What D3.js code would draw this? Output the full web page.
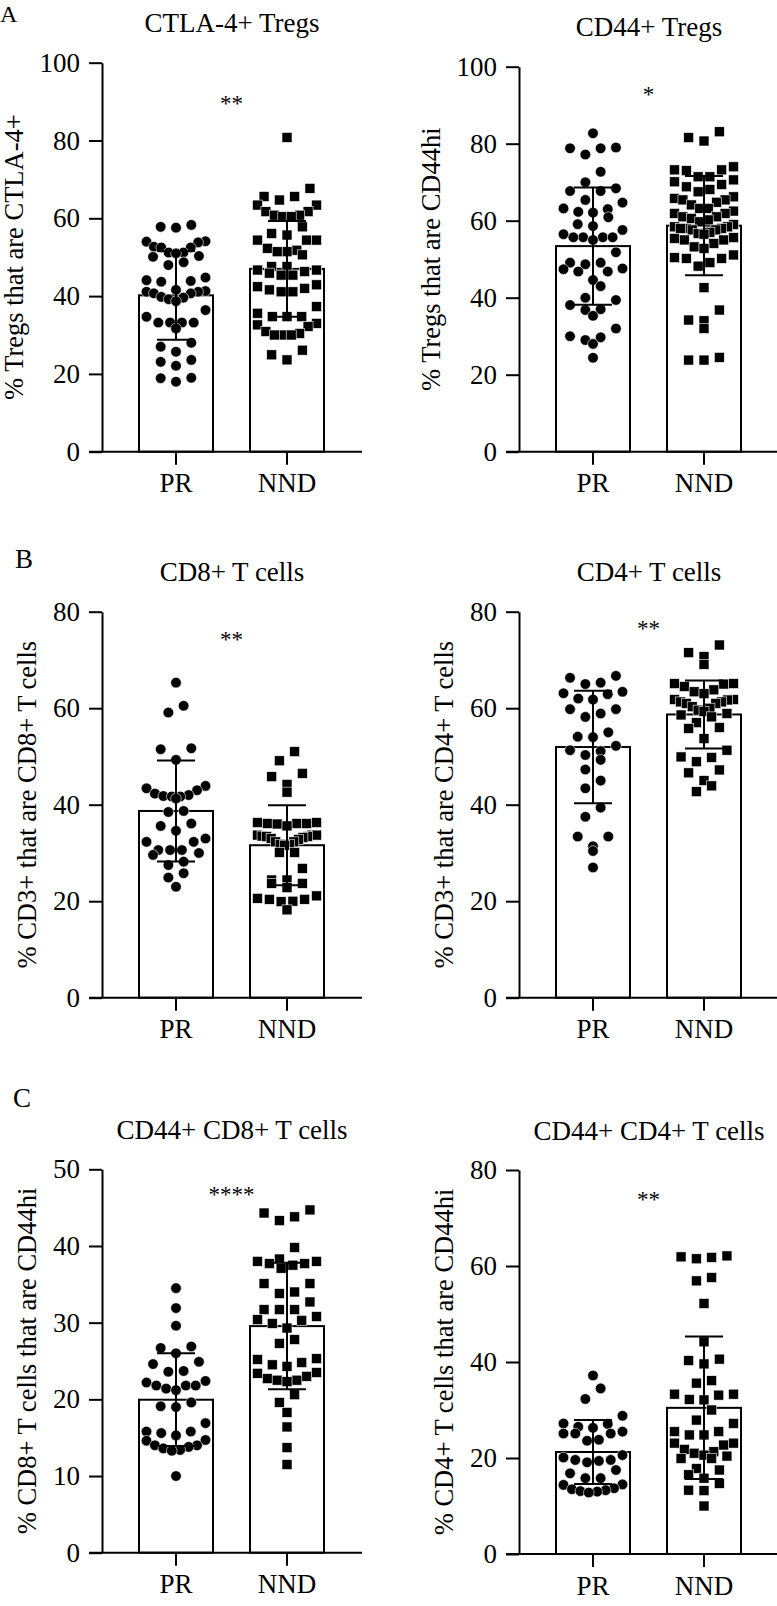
<!DOCTYPE html>
<html>
<head>
<meta charset="utf-8">
<script src="https://cdn.jsdelivr.net/npm/d3@7"></script>
<style>
  body { margin: 0; background: #fff; }
  svg text { font-family: 'Liberation Serif', 'DejaVu Serif', serif; fill: #000; }
</style>
</head>
<body>
<svg id="chart" width="777" height="1606" font-family="Liberation Serif, DejaVu Serif, serif"></svg>
<script>
// groups on the x axis
const groups = ["PR", "NND"];

// A - CTLA-4+ Tregs (% Tregs that are CTLA-4+)
const ctla4PR = [58.3, 57.8, 57.6, 54.1, 54.0, 53.8, 52.7, 52.5, 52.5, 51.2, 51.2, 51.0, 50.3, 50.1, 48.7, 48.0,
  44.8, 44.1, 43.9, 43.7, 41.6, 41.3, 41.1, 41.1, 40.7, 40.7, 39.8, 39.6, 39.2, 38.7, 36.4, 34.7, 33.2, 33.2,
  33.2, 33.2, 31.7, 28.0, 27.0, 25.7, 23.6, 23.1, 22.1, 19.0, 18.9, 18.0];
const ctla4NND = [80.8, 67.7, 65.6, 65.6, 64.7, 63.4, 63.4, 61.7, 61.7, 60.8, 60.4, 60.4, 60.8, 57.8, 56.1, 55.7,
  54.4, 54.4, 54.4, 52.3, 51.4, 51.4, 51.8, 50.6, 47.6, 46.7, 46.3, 45.4, 45.4, 45.9, 46.7, 47.6, 42.9, 42.0,
  41.1, 41.1, 41.6, 42.4, 37.3, 35.6, 34.7, 34.7, 34.7, 33.0, 32.6, 32.2, 30.9, 30.4, 30.0, 30.0, 30.0, 26.1,
  24.9, 23.6];

// A - CD44+ Tregs (% Tregs that are CD44hi)
const cd44TregPR = [82.7, 79.0, 78.8, 78.8, 77.2, 72.7, 70.0, 68.4, 67.7, 67.7, 65.4, 64.7, 63.2, 63.0, 62.3,
  62.1, 60.9, 59.1, 58.6, 57.6, 56.5, 55.7, 55.7, 55.7, 55.7, 55.0, 51.8, 49.1, 49.1, 48.7, 47.6, 47.4, 46.8,
  46.8, 44.6, 43.0, 40.0, 39.4, 38.1, 37.0, 36.8, 35.3, 32.0, 30.0, 29.7, 29.0, 28.0, 24.4];
const cd44TregNND = [83.1, 81.6, 80.7, 74.0, 73.2, 73.2, 73.0, 71.4, 71.4, 70.6, 70.1, 69.4, 68.8, 68.1, 67.5,
  66.2, 65.8, 65.4, 65.4, 64.8, 64.1, 63.2, 63.2, 62.5, 61.9, 61.9, 61.0, 61.0, 60.6, 60.2, 59.7, 59.0, 58.4,
  58.4, 58.0, 58.0, 58.0, 57.6, 57.6, 57.0, 56.7, 56.5, 55.6, 55.4, 55.0, 55.0, 54.1, 53.2, 52.8, 51.1, 50.4,
  50.2, 50.2, 49.1, 48.2, 42.6, 36.8, 34.2, 34.0, 32.0, 24.5, 23.8, 23.8];

// B - CD8+ T cells (% CD3+ that are CD8+ T cells)
const cd8PR = [65.3, 60.5, 59.1, 51.7, 51.5, 49.3, 43.9, 43.4, 43.0, 42.3, 42.0, 41.8, 41.7, 41.7, 41.3, 38.7,
  38.5, 36.1, 35.6, 34.6, 33.0, 32.3, 32.3, 30.6, 30.6, 30.6, 30.0, 29.6, 28.2, 27.5, 25.8, 24.9, 23.0];
const cd8NND = [51.0, 49.1, 46.5, 45.8, 44.2, 42.6, 36.3, 36.3, 36.1, 36.1, 36.1, 36.0, 35.6, 33.7, 33.7, 33.7,
  33.5, 33.4, 33.4, 33.2, 33.0, 32.8, 32.3, 32.3, 31.8, 31.8, 31.6, 30.1, 30.1, 26.8, 24.4, 24.4, 23.7, 23.7,
  22.8, 21.1, 20.6, 20.4, 20.4, 20.0, 19.9, 18.2];

// B - CD4+ T cells (% CD3+ that are CD4+ T cells)
const cd4PR = [66.7, 66.3, 65.3, 65.0, 63.4, 63.1, 62.9, 62.0, 61.8, 59.8, 59.8, 58.9, 58.2, 55.0, 54.1, 54.0,
  52.2, 51.3, 51.1, 50.3, 49.3, 47.3, 45.0, 43.4, 39.4, 37.5, 33.4, 33.4, 31.4, 30.4, 27.0];
const cd4NND = [73.1, 71.5, 70.7, 69.1, 65.1, 65.1, 65.0, 64.5, 63.8, 63.4, 63.0, 61.8, 61.8, 61.7, 61.3, 61.3,
  61.0, 61.0, 60.3, 60.0, 59.6, 59.3, 58.9, 58.6, 58.2, 57.0, 56.0, 55.8, 53.7, 51.3, 49.9, 49.8, 48.9, 47.2,
  46.6, 45.0, 43.9, 42.7];

// C - CD44+ CD8+ T cells (% CD8+ T cells that are CD44hi)
const cd44cd8PR = [34.5, 31.9, 29.6, 26.9, 26.7, 26.0, 24.9, 24.6, 23.7, 23.6, 22.4, 22.2, 21.8, 21.8, 21.8,
  21.4, 21.2, 19.6, 19.1, 19.0, 16.9, 15.8, 15.8, 15.6, 15.3, 14.7, 14.6, 14.0, 14.0, 13.8, 13.6, 13.4, 13.3, 10.0];
const cd44cd8NND = [44.7, 44.3, 43.8, 43.3, 39.8, 38.3, 38.0, 38.0, 37.7, 37.7, 37.5, 37.1, 35.1, 35.1, 34.0,
  33.8, 32.7, 31.7, 31.7, 31.7, 30.8, 30.4, 30.3, 29.9, 29.3, 27.8, 27.3, 25.3, 25.2, 24.8, 24.5, 24.3, 23.5,
  23.4, 23.0, 22.7, 22.5, 22.5, 22.3, 20.6, 19.6, 18.3, 16.4, 13.7, 11.5];

// C - CD44+ CD4+ T cells (% CD4+ T cells that are CD44hi)
const cd44cd4PR = [37.2, 34.5, 32.3, 28.8, 27.2, 27.1, 26.5, 26.3, 25.5, 25.1, 25.1, 25.1, 23.8, 23.6, 20.6,
  20.1, 19.6, 19.6, 19.4, 19.1, 17.5, 16.8, 15.8, 15.8, 14.5, 14.4, 13.7, 13.5, 13.3, 13.1, 13.0, 12.8];
const cd44cd4NND = [62.1, 61.9, 61.8, 61.5, 57.6, 56.9, 52.2, 44.2, 40.6, 40.3, 39.6, 36.1, 35.6, 33.3, 33.3,
  33.1, 32.2, 32.1, 30.0, 27.9, 27.2, 25.5, 25.5, 24.8, 24.8, 23.1, 23.1, 22.7, 21.8, 21.3, 21.0, 20.6, 20.4,
  19.9, 19.9, 17.8, 17.5, 16.5, 15.8, 14.7, 13.3, 13.2, 10.0];

// bar heights (mean) and error bars (SD), [PR, NND], as drawn in the figure
const ctla4Mean = [40.2, 47.0],      ctla4SD = [11.4, 12.3];
const cd44TregMean = [53.4, 58.7],   cd44TregSD = [15.2, 12.9];
const cd8Mean = [38.7, 31.6],        cd8SD = [10.45, 8.3];
const cd4Mean = [51.95, 58.7],       cd4SD = [11.65, 7.05];
const cd44cd8Mean = [19.95, 29.55],  cd44cd8SD = [6.05, 8.25];
const cd44cd4Mean = [21.25, 30.45],  cd44cd4SD = [6.65, 14.85];

// significance marks and the value they sit at
const starLabels = ["**", "*", "**", "**", "****", "**"];
const starValues = [90.4, 93.7, 75, 77.3, 47.2, 74.6];

// axis maxima and tick steps
const yMaxes = [100, 100, 80, 80, 50, 80];
const tickSteps = [20, 20, 20, 20, 10, 20];

const titles = ["CTLA-4+ Tregs", "CD44+ Tregs", "CD8+ T cells", "CD4+ T cells",
  "CD44+ CD8+ T cells", "CD44+ CD4+ T cells"];
const yLabels = ["% Tregs that are CTLA-4+", "% Tregs that are CD44hi",
  "% CD3+ that are CD8+ T cells", "% CD3+ that are CD4+ T cells",
  "% CD8+ T cells that are CD44hi", "% CD4+ T cells that are CD44hi"];

const panelData = [
  [ctla4PR, ctla4NND, ctla4Mean, ctla4SD],
  [cd44TregPR, cd44TregNND, cd44TregMean, cd44TregSD],
  [cd8PR, cd8NND, cd8Mean, cd8SD],
  [cd4PR, cd4NND, cd4Mean, cd4SD],
  [cd44cd8PR, cd44cd8NND, cd44cd8Mean, cd44cd8SD],
  [cd44cd4PR, cd44cd4NND, cd44cd4Mean, cd44cd4SD]
];

// where each panel's plot area sits on the page
const frames = [
  {left: 102, top: 62.7, bottom: 451.7},
  {left: 519, top: 66.7, bottom: 451.7},
  {left: 102, top: 611.7, bottom: 997.7},
  {left: 519, top: 611.7, bottom: 997.7},
  {left: 102, top: 1169.3, bottom: 1552.7},
  {left: 519, top: 1170, bottom: 1554}
];
const letters = [{t: "A", x: 0, y: 22, size: 24}, {t: "B", x: 15, y: 568, size: 27}, {t: "C", x: 13, y: 1107, size: 27}];

const FONT = "Liberation Serif, DejaVu Serif, serif";
const svg = d3.select("#chart");
const plotW = 259, tick = 13, lw = 2;
const dotR = 5.3, sq = 10;

svg.selectAll("text.letter").data(letters).enter().append("text")
  .attr("class", "letter")
  .attr("x", d => d.x).attr("y", d => d.y)
  .attr("font-family", FONT).attr("font-size", d => d.size)
  .text(d => d.t);

// Prism-like scatter: points close in y share a row and are spread sideways,
// lowest value in the middle, so each row curves into a small smile
function spread(values, y) {
  const rowH = 12.5, step = 15.3, maxW = 59;
  const pts = values.map(v => ({v: v, py: y(v)})).sort((a, b) => a.py - b.py);
  const rows = [];
  let cur = null;
  pts.forEach(p => {
    if (!cur || p.py - cur[0].py > rowH) { cur = []; rows.push(cur); }
    cur.push(p);
  });
  rows.forEach(row => {
    const n = row.length;
    const s = n > 1 ? Math.min(step, maxW / (n - 1)) : 0;
    const slots = d3.range(n).map(i => (i - (n - 1) / 2) * s)
      .sort((a, b) => Math.abs(a) - Math.abs(b) || a - b);
    row.sort((a, b) => b.py - a.py).forEach((p, i) => { p.dx = slots[i]; });
  });
  return pts;
}

frames.forEach((f, i) => {
  const [prVals, nndVals, means, sds] = panelData[i];
  const g = svg.append("g").attr("font-family", FONT);

  const y = d3.scaleLinear().domain([0, yMaxes[i]]).range([f.bottom, f.top]);
  const x = d3.scaleBand().domain(groups).range([f.left, f.left + plotW])
    .paddingInner(1 / 3).paddingOuter(1 / 3);
  const bw = x.bandwidth();
  const cx = d => x(d) + bw / 2;

  // title
  g.append("text")
    .attr("x", f.left + 130).attr("y", f.top - 30.5)
    .attr("text-anchor", "middle").attr("font-size", 27)
    .text(titles[i]);

  // bars
  g.selectAll("rect.bar").data(groups).enter().append("rect")
    .attr("class", "bar")
    .attr("x", d => x(d)).attr("width", bw)
    .attr("y", (d, j) => y(means[j]))
    .attr("height", (d, j) => f.bottom - y(means[j]))
    .attr("fill", "#fff").attr("stroke", "#000").attr("stroke-width", lw);

  // points
  const pr = spread(prVals, y);
  g.selectAll("circle.pt").data(pr).enter().append("circle")
    .attr("class", "pt")
    .attr("cx", d => cx("PR") + d.dx).attr("cy", d => d.py)
    .attr("r", dotR)
    .attr("fill", "#000").attr("stroke", "#fff").attr("stroke-width", 0.6);

  const nnd = spread(nndVals, y);
  g.selectAll("rect.pt").data(nnd).enter().append("rect")
    .attr("class", "pt")
    .attr("x", d => cx("NND") + d.dx - sq / 2).attr("y", d => d.py - sq / 2)
    .attr("width", sq).attr("height", sq)
    .attr("fill", "#000").attr("stroke", "#fff").attr("stroke-width", 0.6);

  // mean +/- SD
  groups.forEach((grp, j) => {
    const x0 = cx(grp), hi = y(means[j] + sds[j]), lo = y(means[j] - sds[j]);
    g.append("line").attr("x1", x0).attr("x2", x0).attr("y1", hi).attr("y2", lo)
      .attr("stroke", "#000").attr("stroke-width", lw);
    [hi, lo].forEach(yy => {
      g.append("line").attr("x1", x0 - 19).attr("x2", x0 + 19).attr("y1", yy).attr("y2", yy)
        .attr("stroke", "#000").attr("stroke-width", lw);
    });
  });

  // y axis
  const yAxis = g.append("g")
    .attr("transform", `translate(${f.left},0)`)
    .call(d3.axisLeft(y)
      .tickValues(d3.range(0, yMaxes[i] + 1, tickSteps[i]))
      .tickSize(tick).tickSizeOuter(0).tickPadding(9));
  yAxis.attr("font-family", FONT).attr("font-size", 27);
  yAxis.selectAll("path, line").attr("stroke", "#000").attr("stroke-width", lw);
  yAxis.selectAll("text").attr("fill", "#000");

  // x axis
  g.append("line")
    .attr("x1", f.left - tick).attr("x2", f.left + plotW + 1)
    .attr("y1", f.bottom).attr("y2", f.bottom)
    .attr("stroke", "#000").attr("stroke-width", lw);
  g.selectAll("line.xtick").data(groups).enter().append("line")
    .attr("class", "xtick")
    .attr("x1", cx).attr("x2", cx)
    .attr("y1", f.bottom).attr("y2", f.bottom + tick)
    .attr("stroke", "#000").attr("stroke-width", lw);
  g.selectAll("text.xlab").data(groups).enter().append("text")
    .attr("class", "xlab")
    .attr("x", cx).attr("y", f.bottom + 40.5)
    .attr("text-anchor", "middle").attr("font-size", 27)
    .text(d => d);

  // y axis title, placed off the tick labels
  const bb = yAxis.node().getBBox();
  g.append("text")
    .attr("transform", `translate(${f.left + bb.x - 17},${(f.top + f.bottom) / 2}) rotate(-90)`)
    .attr("text-anchor", "middle").attr("font-size", 26.5)
    .text(yLabels[i]);

  // significance
  g.append("text")
    .attr("x", (cx("PR") + cx("NND")) / 2)
    .attr("y", y(starValues[i]) + 0.47 * 23)
    .attr("text-anchor", "middle").attr("font-size", 23)
    .text(starLabels[i]);
});
</script>
</body>
</html>
